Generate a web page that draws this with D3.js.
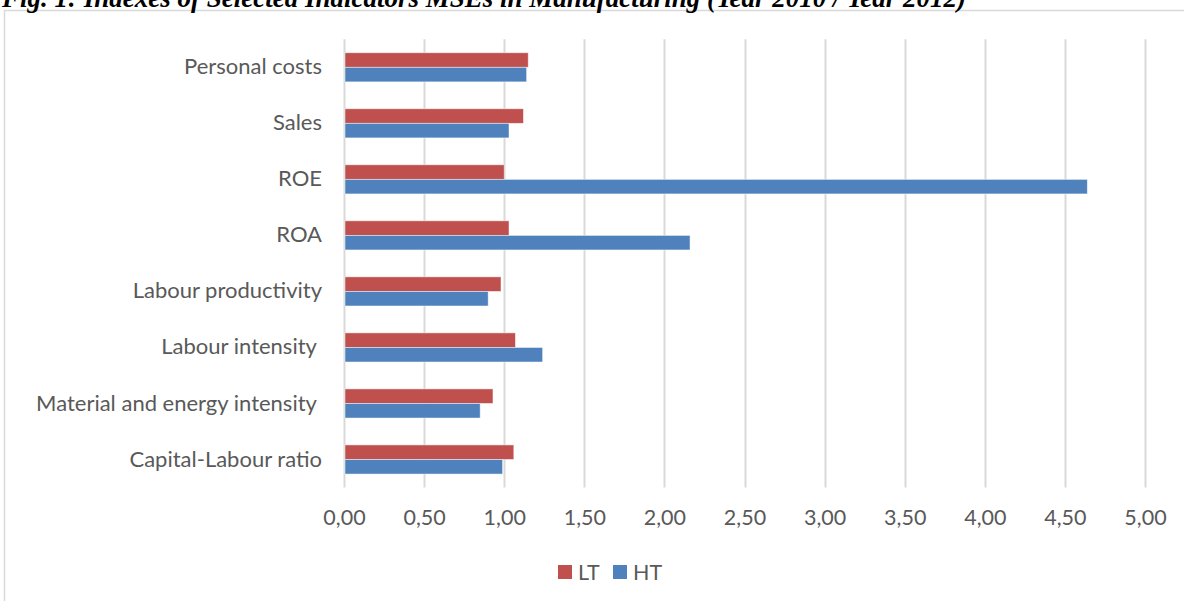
<!DOCTYPE html>
<html>
<head>
<meta charset="utf-8">
<script src="https://cdn.jsdelivr.net/npm/d3@7"></script>
<style>
  html, body { margin: 0; padding: 0; background: #fff; }
  svg { display: block; }
  text { white-space: pre; }
</style>
</head>
<body>
<script>
// indicator names, listed top to bottom as in the chart
var categories = ["Personal costs", "Sales", "ROE", "ROA", "Labour productivity",
                  "Labour intensity ", "Material and energy intensity ", "Capital-Labour ratio"];
var seriesNames = ["LT", "HT"];
var ltValues = [1.15, 1.12, 1.00, 1.03, 0.98, 1.07, 0.93, 1.06];
var htValues = [1.14, 1.03, 4.64, 2.16, 0.90, 1.24, 0.85, 0.99];
var xTicks = [0, 0.5, 1, 1.5, 2, 2.5, 3, 3.5, 4, 4.5, 5];
var colors = {LT: "#C0504D", HT: "#4F81BD"};

var width = 1184, height = 601;
var svg = d3.select("body").append("svg")
  .attr("width", width).attr("height", height);

// chart frame
svg.append("rect")
  .attr("x", 4.5).attr("y", 10.5)
  .attr("width", 1200).attr("height", 620)
  .attr("fill", "none").attr("stroke", "#D9D9D9").attr("stroke-width", 1.5);

// title, partly cut off at the top like the scan
svg.append("text")
  .attr("x", 2).attr("y", 7)
  .attr("font-family", "'Liberation Serif', 'DejaVu Serif', serif")
  .attr("font-weight", "bold").attr("font-style", "italic")
  .attr("font-size", 27)
  .attr("fill", "#000")
  .text("Fig. 1: Indexes of Selected Indicators MSEs in Manufacturing (Year 2010 / Year 2012)");

var x = d3.scaleLinear().domain([0, 5]).range([344, 1145]);
var y = d3.scaleBand().domain(categories).range([39.3, 487.5]).paddingInner(0.48).paddingOuter(0.24);
var ySub = d3.scaleBand().domain(seriesNames).range([0, y.bandwidth()]);

var font = "Lato, 'Open Sans', sans-serif";

// gridlines
svg.append("g").selectAll("line").data(xTicks).join("line")
  .attr("x1", d => Math.round(x(d)) + 0.5).attr("x2", d => Math.round(x(d)) + 0.5)
  .attr("y1", 39.3).attr("y2", 487.5)
  .attr("stroke", "#D9D9D9").attr("stroke-width", 2);

// x axis labels
var xAxis = svg.append("g").attr("transform", "translate(0,510)")
  .call(d3.axisBottom(x).tickValues(xTicks).tickSize(0).tickPadding(0)
    .tickFormat(d => d3.format(".2f")(d).replace(".", ",")));
xAxis.select(".domain").remove();
xAxis.selectAll("text")
  .attr("font-family", font).attr("font-size", 21.5).attr("fill", "#595959");

// y axis labels
var yAxis = svg.append("g").attr("transform", "translate(322,0)")
  .call(d3.axisLeft(y).tickSize(0).tickPadding(0));
yAxis.select(".domain").remove();
yAxis.selectAll("text")
  .attr("font-family", font).attr("font-size", 22).attr("fill", "#595959");

// bars
var rows = categories.map((c, i) => ({cat: c, LT: ltValues[i], HT: htValues[i]}));
var groups = svg.append("g").selectAll("g").data(rows).join("g")
  .attr("transform", d => "translate(0," + y(d.cat) + ")");
groups.selectAll("rect")
  .data(d => seriesNames.map(s => ({key: s, value: d[s]})))
  .join("rect")
  .attr("x", x(0) + 1)
  .attr("y", d => ySub(d.key))
  .attr("width", d => x(d.value) - x(0) - 1)
  .attr("height", ySub.bandwidth())
  .attr("fill", d => colors[d.key])
  .attr("stroke", "#fff").attr("stroke-opacity", 0.6).attr("stroke-width", 0.8);

// legend
var legend = svg.append("g").attr("transform", "translate(558,565)");
var items = legend.selectAll("g").data(seriesNames).join("g")
  .attr("transform", (d, i) => "translate(" + (i * 55) + ",0)");
items.append("rect").attr("width", 14).attr("height", 14)
  .attr("fill", d => colors[d]);
items.append("text").attr("x", 20).attr("y", 15)
  .attr("font-family", font).attr("font-size", 21.5).attr("fill", "#595959")
  .text(d => d);
</script>
</body>
</html>
